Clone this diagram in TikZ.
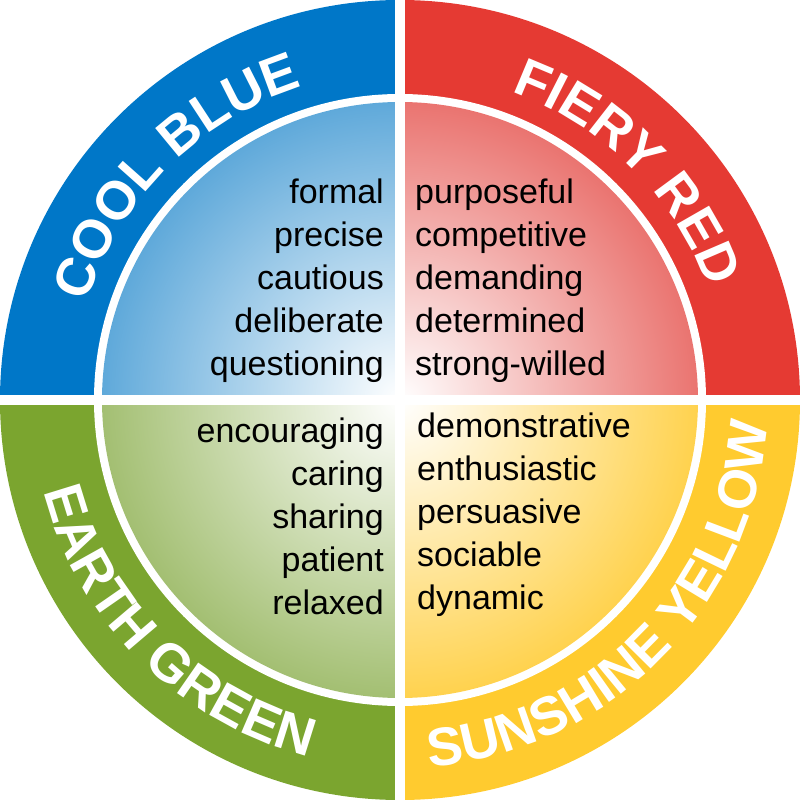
\documentclass[tikz,border=0pt]{standalone}
\usepackage{fontspec}
\setmainfont{Liberation Sans}
\usetikzlibrary{decorations.text}
\newcommand{\ringsize}{\fontsize{54}{54}\selectfont\bfseries}
\definecolor{cblue}{HTML}{0077C8}
\definecolor{cred}{HTML}{E53A33}
\definecolor{cgreen}{HTML}{7BA52F}
\definecolor{cyellow}{HTML}{FFCB2F}
\definecolor{lblue}{HTML}{5FA9DA}
\definecolor{lred}{HTML}{EA7470}
\definecolor{lgreen}{HTML}{A3BF72}
\definecolor{lyellow}{HTML}{FFD24E}
\tikzset{
  words/.style={font=\fontsize{34}{43}\selectfont, inner sep=0pt, text=black},
  ringtext/.style={decorate, decoration={text along path, text align=center,
     text color=white, text={|\ringsize|#1}}},
}
\begin{document}
\begin{tikzpicture}[x=1pt,y=1pt]
\useasboundingbox (-400,-400) rectangle (400,400);
\fill[cblue] (0,0) -- (180:400) arc (180:90:400) -- cycle;
\fill[cred] (0,0) -- (90:400) arc (90:0:400) -- cycle;
\fill[cyellow] (0,0) -- (0:400) arc (360:270:400) -- cycle;
\fill[cgreen] (0,0) -- (270:400) arc (270:180:400) -- cycle;
\fill[white] (0,0) circle (306);
\foreach \a/\c in {90/lblue,0/lred,270/lyellow,180/lgreen}{
  \begin{scope}
    \clip (0,0) -- (\a:310) arc (\a:\a+90:310) -- cycle;
    \shade[inner color=white, outer color=\c] (0,0) circle (298);
  \end{scope}
}
\fill[white] (-5,-400) rectangle (5,400);
\fill[white] (-400,-5) rectangle (400,5);
\path[ringtext={COOL BLUE}] (177:328) arc (177:93:328);
\path[ringtext={FIERY RED}] (87:328) arc (87:3:328);
\path[ringtext={EARTH GREEN}] (183:368) arc (183:267:368);
\path[ringtext={SUNSHINE YELLOW}] (272:368) arc (272:359:368);
\node[words, anchor=north east, align=right] (cb) at (-16,221)
  {formal\\precise\\cautious\\deliberate\\questioning};
\node[words, anchor=north west, align=left] (fr) at (15,221)
  {purposeful\\competitive\\demanding\\determined\\strong-willed};
\node[words, anchor=north east, align=right] (eg) at (-16,-18)
  {encouraging\\caring\\sharing\\patient\\relaxed};
\node[words, anchor=north west, align=left] (sy) at (17,-13)
  {demonstrative\\enthusiastic\\persuasive\\sociable\\dynamic};
\end{tikzpicture}
\end{document}
